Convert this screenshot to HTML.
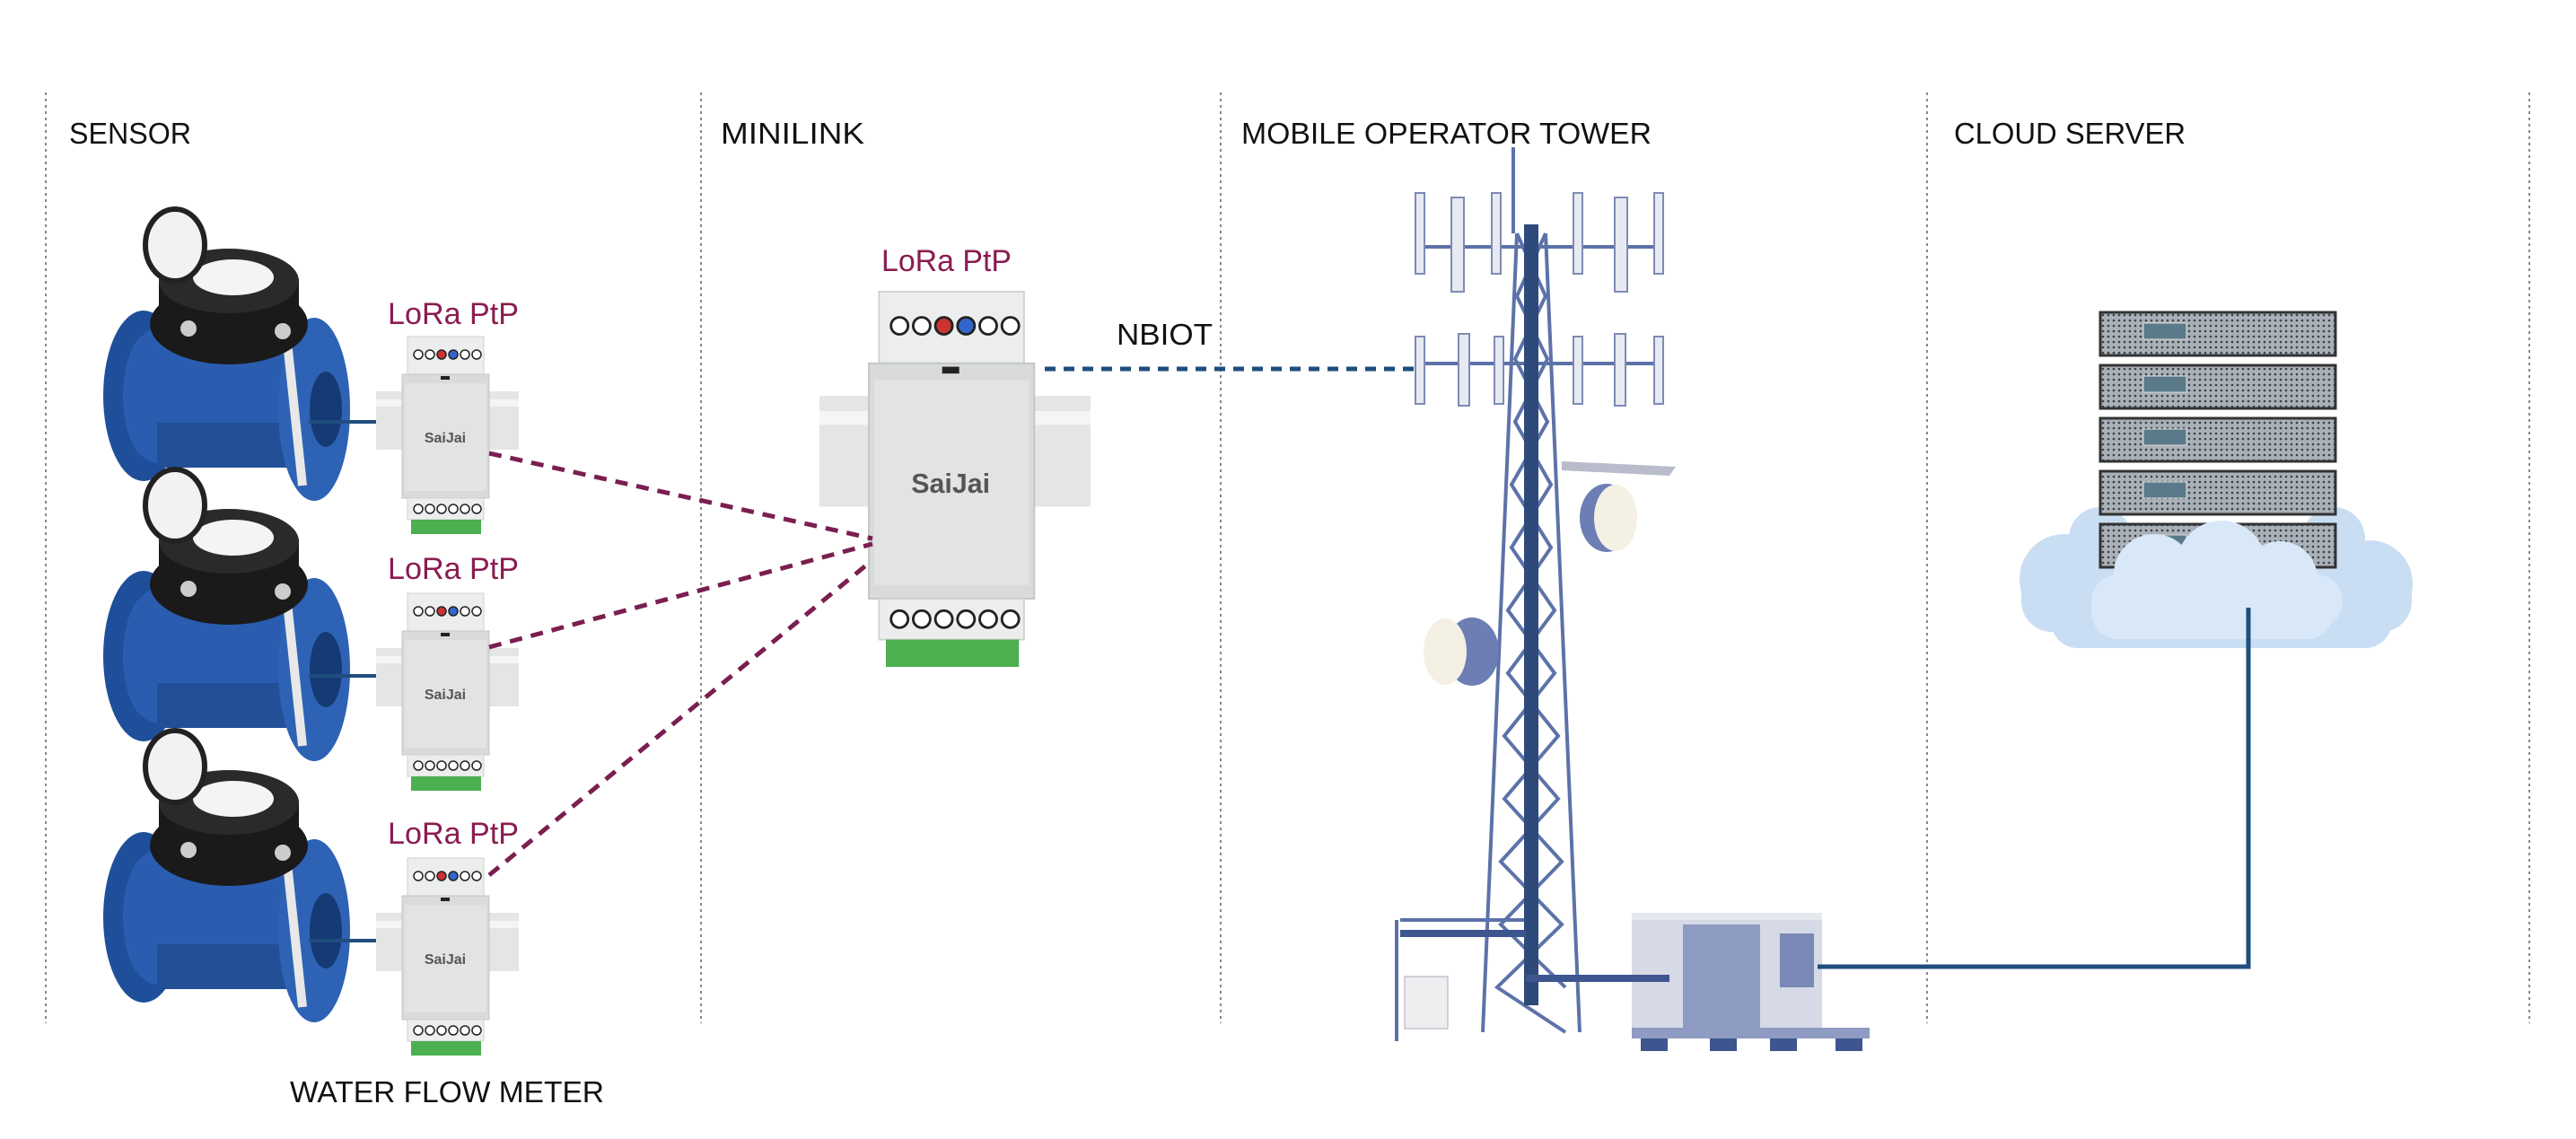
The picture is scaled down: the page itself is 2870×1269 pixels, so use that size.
<!DOCTYPE html>
<html><head><meta charset="utf-8"><style>html,body{margin:0;padding:0;background:#fff}svg{display:block}</style></head><body>
<svg width="2870" height="1269" viewBox="0 0 2870 1269" xmlns="http://www.w3.org/2000/svg" font-family="Liberation Sans, sans-serif">
<defs>
<pattern id="dots" width="6" height="6" patternUnits="userSpaceOnUse"><rect width="6" height="6" fill="#a9b0b8"/><circle cx="3" cy="3" r="1.3" fill="#3a4048"/></pattern>
<g id="meter">
<ellipse cx="45" cy="200" rx="45" ry="95" fill="#1f4f9a"/>
<ellipse cx="52" cy="200" rx="30" ry="70" fill="#2a5db0"/>
<rect x="40" y="125" width="195" height="150" rx="20" fill="#2a5db0"/>
<rect x="60" y="230" width="160" height="50" fill="#234f97"/>
<ellipse cx="235" cy="215" rx="40" ry="102" fill="#2d62b5"/>
<ellipse cx="248" cy="215" rx="18" ry="42" fill="#163a75"/>
<path d="M205 140 L222 300" stroke="#e8e8e8" stroke-width="10"/>
<ellipse cx="140" cy="120" rx="88" ry="45" fill="#1a1a1a"/>
<rect x="62" y="70" width="156" height="52" fill="#1a1a1a"/>
<ellipse cx="140" cy="72" rx="78" ry="36" fill="#2a2a2a"/>
<ellipse cx="145" cy="68" rx="45" ry="20" fill="#f4f4f4"/>
<circle cx="95" cy="125" r="9" fill="#ccc"/><circle cx="200" cy="128" r="9" fill="#ccc"/>
<ellipse cx="80" cy="32" rx="33" ry="40" fill="#f2f2f2" stroke="#222" stroke-width="6"/>
</g>
<g id="dev">
<rect x="-29" y="61" width="159" height="65" fill="#e4e6e6"/>
<rect x="-29" y="70" width="159" height="8" fill="#f4f5f5"/>
<rect x="6" y="0" width="85" height="42" fill="#eceeee" stroke="#d0d0d0"/>
<g fill="#fff" stroke="#222" stroke-width="1.5"><circle cx="18" cy="20" r="5"/><circle cx="31" cy="20" r="5"/><circle cx="44" cy="20" r="5" fill="#c33"/><circle cx="57" cy="20" r="5" fill="#36c"/><circle cx="70" cy="20" r="5"/><circle cx="83" cy="20" r="5"/></g>
<rect x="0" y="42" width="97" height="138" fill="#d9dbdb" stroke="#c4c6c6"/>
<rect x="3" y="52" width="91" height="120" fill="#e2e4e4"/>
<rect x="43" y="44" width="10" height="4" fill="#222"/>
<text x="48" y="118" font-size="16" font-weight="bold" fill="#555" text-anchor="middle">SaiJai</text>
<rect x="6" y="180" width="85" height="24" fill="#eceeee" stroke="#d0d0d0"/>
<g fill="#fff" stroke="#222" stroke-width="1.5"><circle cx="18" cy="192" r="5"/><circle cx="31" cy="192" r="5"/><circle cx="44" cy="192" r="5"/><circle cx="57" cy="192" r="5"/><circle cx="70" cy="192" r="5"/><circle cx="83" cy="192" r="5"/></g>
<rect x="10" y="204" width="78" height="16" fill="#4caf50"/>
</g>
</defs>

<g stroke="#888" stroke-width="2" stroke-dasharray="3 4">
<line x1="51" y1="103" x2="51" y2="1140"/><line x1="781" y1="103" x2="781" y2="1140"/><line x1="1360" y1="103" x2="1360" y2="1140"/><line x1="2147" y1="103" x2="2147" y2="1140"/><line x1="2818" y1="103" x2="2818" y2="1140"/>
</g>

<g font-size="33" fill="#111">
<text x="77" y="160" textLength="136" lengthAdjust="spacingAndGlyphs">SENSOR</text>
<text x="803" y="160" textLength="160" lengthAdjust="spacingAndGlyphs">MINILINK</text>
<text x="1383" y="160" textLength="457" lengthAdjust="spacingAndGlyphs">MOBILE OPERATOR TOWER</text>
<text x="2177" y="160" textLength="258" lengthAdjust="spacingAndGlyphs">CLOUD SERVER</text>
<text x="323" y="1228" textLength="350" lengthAdjust="spacingAndGlyphs">WATER FLOW METER</text>
<text x="1244" y="384" textLength="107" lengthAdjust="spacingAndGlyphs">NBIOT</text>
</g>

<use href="#meter" x="115" y="241"/>
<use href="#meter" x="115" y="531"/>
<use href="#meter" x="115" y="822"/>
<g stroke="#1f4e7e" stroke-width="4"><line x1="344" y1="470" x2="442" y2="470"/><line x1="344" y1="753" x2="442" y2="753"/><line x1="344" y1="1048" x2="442" y2="1048"/></g>
<use href="#dev" x="448" y="375"/>
<use href="#dev" x="448" y="661"/>
<use href="#dev" x="448" y="956"/>
<g transform="translate(968,325) scale(1.9)"><use href="#dev"/></g>

<g font-size="34" fill="#8a1c52">
<text x="432" y="361" textLength="146" lengthAdjust="spacingAndGlyphs">LoRa PtP</text>
<text x="432" y="645" textLength="146" lengthAdjust="spacingAndGlyphs">LoRa PtP</text>
<text x="432" y="940" textLength="146" lengthAdjust="spacingAndGlyphs">LoRa PtP</text>
<text x="982" y="302" textLength="145" lengthAdjust="spacingAndGlyphs">LoRa PtP</text>
</g>

<g stroke="#7a1f4f" stroke-width="5" stroke-dasharray="14 10" fill="none">
<line x1="545" y1="505" x2="972" y2="600"/><line x1="545" y1="721" x2="972" y2="606"/><line x1="545" y1="975" x2="966" y2="629"/>
</g>
<line x1="1164" y1="411" x2="1588" y2="411" stroke="#1f4e7e" stroke-width="5" stroke-dasharray="12 9"/>

<g stroke="#5d72a8" stroke-width="4" fill="none">
<line x1="1686" y1="180" x2="1686" y2="164"/>
<line x1="1690" y1="260" x2="1652" y2="1150"/><line x1="1722" y1="260" x2="1760" y2="1150"/>
<polyline points="1690,260 1722,330 1688,400 1724,470 1684,540 1728,610 1680,680 1732,750 1676,820 1736,890 1672,960 1740,1030 1668,1100 1744,1150"/>
<polyline points="1722,260 1690,330 1724,400 1688,470 1728,540 1684,610 1732,680 1680,750 1736,820 1676,890 1740,960 1672,1030 1744,1100"/>
<line x1="1686" y1="170" x2="1686" y2="260"/>
<line x1="1580" y1="275" x2="1850" y2="275" /><line x1="1580" y1="405" x2="1850" y2="405"/>
<line x1="1560" y1="1025" x2="1700" y2="1025"/><line x1="1556" y1="1025" x2="1556" y2="1160"/>
</g>
<rect x="1698" y="250" width="16" height="870" fill="#2d4a7a"/>
<g fill="#e8eaf2" stroke="#7d8bb5" stroke-width="2">
<rect x="1577" y="215" width="10" height="90"/><rect x="1617" y="220" width="14" height="105"/><rect x="1662" y="215" width="10" height="90"/><rect x="1753" y="215" width="10" height="90"/><rect x="1799" y="220" width="14" height="105"/><rect x="1843" y="215" width="10" height="90"/>
<rect x="1577" y="375" width="10" height="75"/><rect x="1625" y="372" width="12" height="80"/><rect x="1665" y="375" width="10" height="75"/><rect x="1753" y="375" width="10" height="75"/><rect x="1799" y="372" width="12" height="80"/><rect x="1843" y="375" width="10" height="75"/>
</g>
<polygon points="1740,514 1867,520 1860,530 1740,524" fill="#b8bccb"/>
<ellipse cx="1790" cy="577" rx="30" ry="38" fill="#6c7eb3"/><ellipse cx="1800" cy="577" rx="24" ry="37" fill="#f4f0e4"/>
<ellipse cx="1640" cy="726" rx="30" ry="38" fill="#6c7eb3"/><ellipse cx="1610" cy="726" rx="24" ry="37" fill="#f4f0e4"/>
<rect x="1565" y="1088" width="48" height="58" fill="#eeeef0" stroke="#aab" />
<rect x="1818" y="1017" width="212" height="133" fill="#d6d9e6"/>
<rect x="1818" y="1017" width="212" height="8" fill="#e6e8f0"/>
<rect x="1875" y="1030" width="86" height="115" fill="#8e9bc2"/>
<rect x="1983" y="1040" width="38" height="60" fill="#7a89b5"/>
<rect x="1818" y="1145" width="265" height="12" fill="#8e9bc2"/>
<g fill="#3d5690"><rect x="1828" y="1157" width="30" height="14"/><rect x="1905" y="1157" width="30" height="14"/><rect x="1972" y="1157" width="30" height="14"/><rect x="2045" y="1157" width="30" height="14"/></g>
<g stroke="#3d5690" stroke-width="8"><line x1="1560" y1="1040" x2="1700" y2="1040"/><line x1="1700" y1="1090" x2="1860" y2="1090"/></g>

<g fill="#c9def3">
<circle cx="2300" cy="645" r="50"/><circle cx="2340" cy="600" r="35"/><circle cx="2600" cy="600" r="35"/><circle cx="2640" cy="650" r="48"/>
<rect x="2252" y="630" width="435" height="74" rx="34"/>
<rect x="2285" y="660" width="380" height="62" rx="30"/>
</g>
<g>
<rect x="2340" y="348" width="262" height="48" fill="url(#dots)" stroke="#333" stroke-width="3"/>
<rect x="2340" y="407" width="262" height="48" fill="url(#dots)" stroke="#333" stroke-width="3"/>
<rect x="2340" y="466" width="262" height="48" fill="url(#dots)" stroke="#333" stroke-width="3"/>
<rect x="2340" y="525" width="262" height="48" fill="url(#dots)" stroke="#333" stroke-width="3"/>
<rect x="2340" y="584" width="262" height="48" fill="url(#dots)" stroke="#333" stroke-width="3"/>
<g fill="#5a7a8a" stroke="#ddd"><rect x="2388" y="360" width="48" height="18"/><rect x="2388" y="419" width="48" height="18"/><rect x="2388" y="478" width="48" height="18"/><rect x="2388" y="537" width="48" height="18"/><rect x="2388" y="596" width="48" height="18"/></g>
</g>
<g fill="#d9e8f9">
<circle cx="2400" cy="640" r="45"/><circle cx="2475" cy="630" r="50"/><circle cx="2540" cy="645" r="42"/><circle cx="2580" cy="670" r="30"/>
<rect x="2330" y="640" width="270" height="72" rx="30"/>
</g>
<polyline points="2505,677 2505,1077 2025,1077" fill="none" stroke="#1f4e7e" stroke-width="5"/>
</svg>
</body></html>
